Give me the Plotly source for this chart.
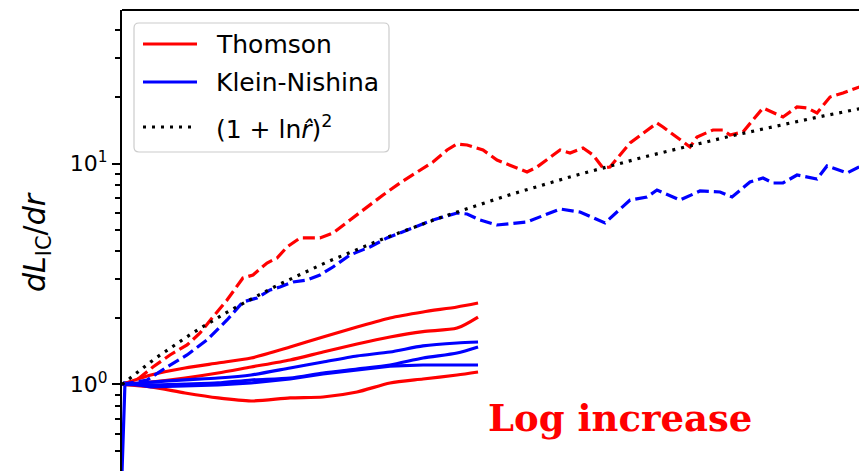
import numpy as np
import plotly.graph_objects as go

RED = "#ff0000"
BLUE = "#0000ff"

# ---- Thomson (dashed, long run) ----
thomson_long_r = [1.0, 1.067, 1.144, 1.232, 1.327, 1.404, 1.485, 1.579, 1.692, 1.768,
                  1.879, 1.963, 2.050, 2.169, 2.366, 2.503, 2.696, 2.902, 3.112, 3.350,
                  3.607, 3.867, 4.111, 4.294, 4.485, 4.807, 5.108, 5.821, 6.080, 6.720,
                  7.019, 7.427, 7.757, 8.101, 8.351, 9.111, 10.245, 10.516, 11.826, 12.191,
                  13.072, 13.655, 14.077, 14.890, 16.244, 17.722, 18.833, 19.672, 20.547,
                  21.742, 23.007, 24.664, 25.87]
thomson_long_v = [1.0, 1.048, 1.200, 1.360, 1.509, 1.710, 2.020, 2.412, 3.034, 3.130,
                  3.546, 3.737, 4.191, 4.603, 4.603, 4.849, 5.551, 6.356, 7.202, 8.161,
                  9.153, 10.16, 11.51, 12.25, 12.13, 11.51, 10.37, 9.153, 9.642, 11.51,
                  11.16, 11.75, 10.93, 9.541, 9.642, 12.38, 15.25, 14.63, 11.88, 13.18,
                  14.18, 14.18, 13.46, 13.89, 17.83, 16.23, 18.02, 17.83, 16.93,
                  19.99, 20.84, 22.19, 23.13]

# ---- Klein-Nishina (dashed, long run) ----
kn_long_r = [1.0, 1.067, 1.115, 1.216, 1.327, 1.447, 1.579, 1.692, 1.799, 1.904,
             1.988, 2.104, 2.236, 2.366, 2.503, 2.696, 2.940, 3.166, 3.454, 3.867,
             4.294, 4.485, 4.745, 5.108, 5.821, 6.720, 7.329, 8.171, 9.111, 9.809,
             10.245, 11.323, 12.352, 13.477, 14.200, 15.351, 16.244, 16.967, 17.722,
             18.833, 20.547, 21.460, 23.411, 24.664, 25.87]
kn_long_v = [1.0, 1.026, 1.048, 1.200, 1.360, 1.590, 1.958, 2.362, 2.463, 2.677,
             2.763, 2.910, 2.971, 3.130, 3.401, 3.855, 4.191, 4.603, 5.003, 5.551,
             5.970, 5.908, 5.551, 5.269, 5.437, 6.225, 6.033, 5.380, 6.836, 7.053,
             7.588, 6.836, 7.510, 7.432, 7.053, 8.247, 8.598, 8.161, 8.161,
             8.871, 8.509, 9.743, 9.058, 9.642, 10.05]

# ---- short runs (solid) ----
short_r = [1.0, 1.134, 1.315, 1.518, 1.753, 2.077, 2.397, 2.779, 3.208, 3.703, 4.294, 4.704]

thomson_short = [
    [1.0, 1.104, 1.188, 1.251, 1.318, 1.478, 1.640, 1.820, 2.000, 2.129, 2.243, 2.337],
    [1.0, 1.026, 1.070, 1.127, 1.200, 1.291, 1.403, 1.525, 1.640, 1.735, 1.800, 2.020],
    [1.0, 0.974, 0.915, 0.869, 0.842, 0.869, 0.878, 0.925, 1.016, 1.059, 1.104, 1.139],
]
kn_short = [
    [1.0, 1.026, 1.050, 1.070, 1.104, 1.188, 1.264, 1.346, 1.403, 1.494, 1.541, 1.557],
    [1.0, 0.995, 1.005, 1.016, 1.048, 1.070, 1.127, 1.175, 1.225, 1.318, 1.388, 1.478],
    [1.0, 0.974, 0.985, 0.995, 1.016, 1.059, 1.116, 1.163, 1.212, 1.225, 1.225, 1.225],
]
# first point of the last KN run dips below unity right at r = 1
kn_start_r = [1.0, 1.013]
kn_start_v = [0.40, 1.016]

# ---- analytic scaling (1 + ln r)^2 ----
model_r = np.geomspace(1.0, 26.0, 80)
model_v = (1.0 + np.log(model_r)) ** 2

fig = go.Figure()

for vals in thomson_short:
    fig.add_trace(go.Scatter(x=short_r, y=vals, mode="lines",
                             line=dict(color=RED, width=3.2, shape="spline", smoothing=0.7),
                             showlegend=False))
for i, vals in enumerate(kn_short):
    xs, ys = list(short_r), list(vals)
    if i == 2:
        xs = kn_start_r + xs[1:]
        ys = kn_start_v + ys[1:]
    fig.add_trace(go.Scatter(x=xs, y=ys, mode="lines",
                             line=dict(color=BLUE, width=3.2,
                                       shape="linear" if i == 2 else "spline", smoothing=0.7),
                             showlegend=False))

fig.add_trace(go.Scatter(x=thomson_long_r, y=thomson_long_v, mode="lines",
                         line=dict(color=RED, width=3.2, dash="12px,5px"), showlegend=False))
fig.add_trace(go.Scatter(x=kn_long_r, y=kn_long_v, mode="lines",
                         line=dict(color=BLUE, width=3.2, dash="12px,5px"), showlegend=False))
fig.add_trace(go.Scatter(x=model_r, y=model_v, mode="lines",
                         line=dict(color="black", width=3.2, dash="3px,6px"), showlegend=False))

# ---- axes ----
W, H = 859, 471
L, T = 122, 10
PW, PH = W - L, H - T

def px(xp):
    return (xp - L) / PW

def py(yp):
    return (H - yp) / PH

minor_vals = [0.5, 0.6, 0.7, 0.8, 0.9, 2, 3, 4, 5, 6, 7, 8, 9, 20, 30, 40]

fig.update_xaxes(type="log", range=[0, 1.39205], showgrid=False, zeroline=False,
                 showticklabels=False, ticks="", showline=False)
fig.update_yaxes(type="log", range=[np.log10(0.406), np.log10(49.5)],
                 showgrid=False, zeroline=False, showline=True, linecolor="black",
                 linewidth=2, ticks="outside", ticklen=8, tickwidth=2, tickcolor="black",
                 tickmode="array", tickvals=[1, 10],
                 ticktext=["10<sup>0</sup>", "10<sup>1</sup>"],
                 tickfont=dict(family="DejaVu Sans", size=22, color="black"),
                 minor=dict(tickmode="array", tickvals=minor_vals, ticks="outside",
                            ticklen=5, tickwidth=1.5, tickcolor="black", showgrid=False))

shapes = []
# top spine
shapes.append(dict(type="line", xref="paper", yref="paper", x0=0, x1=1, y0=1, y1=1,
                   line=dict(color="black", width=2), layer="above"))

# legend frame (rounded)
bx0, bx1, by0, by1 = px(134), px(389), py(152), py(23)
rx, ry = 5 / PW, 5 / PH
path = (f"M{bx0+rx},{by1} L{bx1-rx},{by1} Q{bx1},{by1} {bx1},{by1-ry} "
        f"L{bx1},{by0+ry} Q{bx1},{by0} {bx1-rx},{by0} L{bx0+rx},{by0} "
        f"Q{bx0},{by0} {bx0},{by0+ry} L{bx0},{by1-ry} Q{bx0},{by1} {bx0+rx},{by1} Z")
shapes.append(dict(type="path", xref="paper", yref="paper", path=path,
                   fillcolor="rgba(255,255,255,0.8)", line=dict(color="#cccccc", width=1.2),
                   layer="above"))

legend_rows = [
    ("Thomson", RED, "solid", 44),
    ("Klein-Nishina", BLUE, "solid", 82),
    ("(1 + ln<i>r\u0302</i>)<sup>2</sup>", "black", "3px,6px", 127),
]
annotations = []
for label, color, dash, yrow in legend_rows:
    shapes.append(dict(type="line", xref="paper", yref="paper",
                       x0=px(143), x1=px(197), y0=py(yrow), y1=py(yrow),
                       line=dict(color=color, width=3.2, dash=dash), layer="above"))
    annotations.append(dict(text=label, xref="paper", yref="paper", x=px(214), y=py(yrow),
                            xanchor="left", yanchor="middle", showarrow=False,
                            font=dict(family="DejaVu Sans", size=25, color="black")))

# y-axis title
annotations.append(dict(text="<i>dL</i><sub>IC</sub>/<i>dr</i>", xref="paper", yref="paper",
                        x=px(37), y=py(242), textangle=-90, showarrow=False,
                        xanchor="center", yanchor="middle",
                        font=dict(family="DejaVu Sans", size=30, color="black")))

# in-plot note
annotations.append(dict(text="<b>Log increase</b>", xref="paper", yref="paper",
                        x=px(620), y=py(418), xanchor="center", yanchor="middle",
                        showarrow=False,
                        font=dict(family="DejaVu Serif", size=37, color=RED)))

fig.update_layout(width=W, height=H, margin=dict(l=L, r=0, t=T, b=0, pad=0),
                  paper_bgcolor="white", plot_bgcolor="white",
                  shapes=shapes, annotations=annotations, showlegend=False)

fig.write_html("out.html")
